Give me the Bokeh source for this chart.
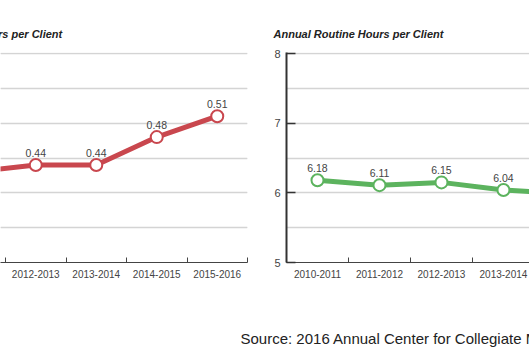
from bokeh.plotting import figure
from bokeh.models import Range1d, FixedTicker, Grid, Label, ColumnDataSource
from bokeh.layouts import row, column
from bokeh.core.properties import value
from bokeh.embed import file_html
from bokeh.resources import INLINE

years = ["2010-2011", "2011-2012", "2012-2013", "2013-2014", "2014-2015", "2015-2016"]
rapid_hours = [0.40, 0.43, 0.44, 0.44, 0.48, 0.51]
routine_hours = [6.18, 6.11, 6.15, 6.04, 5.99, 5.71]
left_title = "Annual Rapid Access Hours per Client"
right_title = "Annual Routine Hours per Client"
source_text = "Source: 2016 Annual Center for Collegiate Mental Health Report"

RED = "#c9474e"
GREEN = "#5cb35e"
FONT = "Liberation Sans"
xs = list(range(len(years)))
labels = {i: y for i, y in enumerate(years)}


def style_x_axis(p):
    ax = p.xaxis[0]
    ax.ticker = FixedTicker(ticks=xs, minor_ticks=[i - 0.5 for i in range(len(years) + 1)])
    ax.major_label_overrides = labels
    ax.major_tick_in = 0
    ax.major_tick_out = 0
    ax.minor_tick_in = 5
    ax.minor_tick_out = 0
    ax.minor_tick_line_color = "#444444"
    ax.axis_line_color = "#444444"
    ax.axis_line_width = 1
    ax.major_label_text_font = FONT
    ax.major_label_text_font_size = "10px"
    ax.major_label_text_color = "#444444"
    ax.major_label_standoff = 7


def style_common(p, title_offset):
    p.title.text_font = FONT
    p.title.text_font_size = "11px"
    p.title.text_font_style = "bold italic"
    p.title.text_color = "#222222"
    p.title.align = "left"
    p.title.offset = title_offset
    p.title.standoff = 25
    p.outline_line_color = None
    p.xgrid.visible = False
    p.background_fill_color = "white"
    p.border_fill_color = "white"


def draw_series(p, vals, color, fmt):
    src = ColumnDataSource(dict(x=xs, y=vals, t=[fmt.format(v) for v in vals]))
    p.line("x", "y", source=src, line_color=color, line_width=5)
    p.scatter("x", "y", source=src, size=12, fill_color="white", line_color=color, line_width=2)
    p.text("x", "y", text="t", source=src, text_align="center", text_baseline="bottom",
           y_offset=-8, text_font=value(FONT), text_font_size="10.5px", text_color="#444444")


# Left panel (cropped on its left side)
pl = figure(width=265, height=290, x_range=Range1d(1.417, 5.5), y_range=Range1d(0.3, 0.60144),
            output_backend="svg", toolbar_location=None, y_axis_location=None,
            title=left_title, min_border_left=0, min_border_right=18,
            min_border_top=52, min_border_bottom=28)
style_common(pl, -139)
style_x_axis(pl)
pl.add_layout(Grid(dimension=1, ticker=FixedTicker(ticks=[0.35, 0.4, 0.45, 0.5, 0.55, 0.6]),
                   grid_line_color="#d4d4d4", grid_line_width=1.5))
draw_series(pl, rapid_hours, RED, "{:.2f}")

# Right panel (cropped on its right side)
pr = figure(width=264, height=290, x_range=Range1d(-0.5, 3.42), y_range=Range1d(5, 8.0144),
            output_backend="svg", toolbar_location=None,
            title=right_title, min_border_left=21, min_border_right=0,
            min_border_top=52, min_border_bottom=28)
style_common(pr, -13)
style_x_axis(pr)
ya = pr.yaxis[0]
ya.ticker = FixedTicker(ticks=[5, 6, 7, 8])
ya.major_tick_in = 9
ya.major_tick_out = 0
ya.major_tick_line_color = "#333333"
ya.major_tick_line_width = 1.5
ya.minor_tick_line_color = None
ya.axis_line_color = "#333333"
ya.axis_line_width = 2
ya.major_label_text_font = FONT
ya.major_label_text_font_size = "11px"
ya.major_label_text_color = "#444444"
ya.major_label_standoff = 6
pr.ygrid.ticker = FixedTicker(ticks=[5.5, 6, 6.5, 7, 7.5, 8])
pr.ygrid.grid_line_color = "#d4d4d4"
pr.ygrid.grid_line_width = 1.5
draw_series(pr, routine_hours, GREEN, "{:.2f}")

# Source line
ps = figure(width=529, height=63, x_range=Range1d(0, 1), y_range=Range1d(0, 1),
            output_backend="svg", toolbar_location=None, min_border=0,
            x_axis_location=None, y_axis_location=None)
ps.outline_line_color = None
ps.xgrid.visible = False
ps.ygrid.visible = False
ps.add_layout(Label(x=240, y=15, x_units="screen", y_units="screen", text=source_text,
                    text_font=FONT, text_font_size="15px", text_color="#222222",
                    text_baseline="middle"))

layout = column(row(pl, pr), ps)
open("out.html", "w").write(file_html(layout, INLINE))
